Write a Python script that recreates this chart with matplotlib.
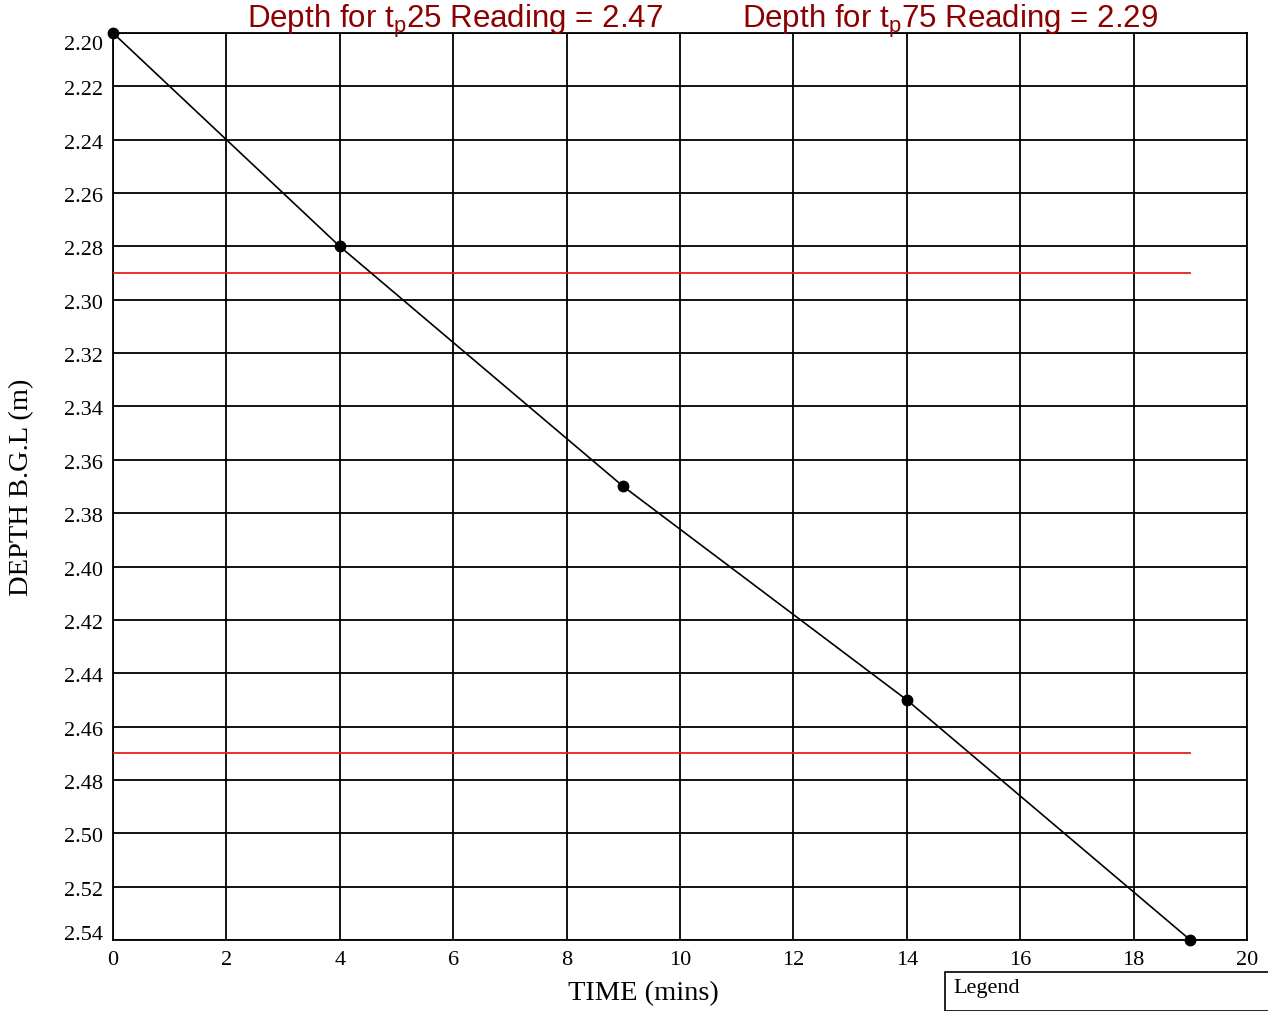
import numpy as np
import matplotlib
matplotlib.use("Agg")
import matplotlib.pyplot as plt
import matplotlib.transforms as mtransforms
from matplotlib.patches import Rectangle

# readings
time_mins = [0, 4, 9, 14, 19]
depth_m = [2.20, 2.28, 2.37, 2.45, 2.54]
tp25_depth = 2.47
tp75_depth = 2.29
ref_x = [0, 19]
x_ticks = list(range(0, 21, 2))
y_ticks = [2.20, 2.22, 2.24, 2.26, 2.28, 2.30, 2.32, 2.34, 2.36, 2.38,
           2.40, 2.42, 2.44, 2.46, 2.48, 2.50, 2.52, 2.54]

W, H = 1268, 1011
fig = plt.figure(figsize=(W / 100, H / 100), dpi=100)
plt.rcParams['mathtext.fontset'] = 'custom'
plt.rcParams['mathtext.rm'] = 'Liberation Sans'

left, right, top, bottom = 113, 1247, 33, 940
ax = fig.add_axes([left / W, 1 - bottom / H, (right - left) / W, (bottom - top) / H])

ax.plot(ref_x, [tp75_depth] * 2, color='#e8201c', lw=1.3, zorder=3)
ax.plot(ref_x, [tp25_depth] * 2, color='#e8201c', lw=1.3, zorder=3)
ax.plot(time_mins, depth_m, color='black', lw=1.2, marker='o', ms=7.5,
        clip_on=False, zorder=4)

ax.set_xlim(0, 20)
ax.set_ylim(2.54, 2.20)
ax.set_xticks(x_ticks)
ax.set_yticks(y_ticks)
ax.tick_params(length=0, labelsize=16)
ax.tick_params(axis='x', pad=8)
ax.tick_params(axis='y', labelleft=False)
for lab in ax.get_xticklabels():
    lab.set_family('Liberation Serif')
ax.grid(True, color='black', lw=1.3)
for sp in ax.spines.values():
    sp.set_linewidth(1.3)

# depth labels sit just under their line; the end ones are kept inside the frame
for i, v in enumerate(y_ticks):
    if i == 0:
        dy = 12.5
    elif i == len(y_ticks) - 1:
        dy = -4.5
    else:
        dy = 4.5
    tr = mtransforms.offset_copy(ax.get_yaxis_transform(), fig=fig,
                                 x=-10, y=-dy, units='dots')
    ax.text(0, v, f'{v:.2f}', transform=tr, ha='right', va='center',
            family='Liberation Serif', fontsize=16)

fig.text(643 / W, 1 - 994 / H, 'TIME (mins)', ha='center', va='center',
         family='Liberation Serif', fontsize=20.5)
fig.text(22 / W, 1 - 487 / H, 'DEPTH B.G.L (m)', ha='center', va='center',
         rotation=90, family='Liberation Serif', fontsize=20.5)

red = '#8b0000'
fig.text(455 / W, 1 - 28 / H, r'Depth for t$_\mathregular{p}$25 Reading = ' + f'{tp25_depth:.2f}',
         ha='center', va='baseline', color=red, family='Liberation Sans', fontsize=22.5)
fig.text(950 / W, 1 - 28 / H, r'Depth for t$_\mathregular{p}$75 Reading = ' + f'{tp75_depth:.2f}',
         ha='center', va='baseline', color=red, family='Liberation Sans', fontsize=22.5)

fig.patches.append(Rectangle((945 / W, 0), (W + 10 - 945) / W, (H - 972) / H,
                             transform=fig.transFigure, fill=False,
                             edgecolor='black', lw=1.2))
fig.text(953 / W, 1 - 989 / H, 'Legend', ha='left', va='center',
         family='Liberation Serif', fontsize=16)

fig.savefig('out.png', dpi=100)
